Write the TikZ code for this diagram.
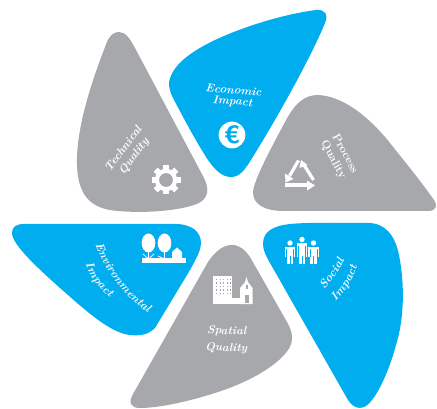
\documentclass[tikz,border=0pt]{standalone}
\usetikzlibrary{decorations.text}
\definecolor{bluec}{HTML}{00ADEF}
\definecolor{grayc}{HTML}{A7A8AC}
\newcommand{\lblfont}{\fontsize{11.5}{12}\selectfont\bfseries\itshape}
\tikzset{
  blueleaf/.style={fill=bluec,draw=none},
  grayleaf/.style={fill=grayc,draw=none},
  lbl/.style={text=white,font=\lblfont,align=center,inner sep=0pt},
  icon/.style={fill=white,draw=none},
  iconline/.style={draw=white,line width=1.2pt},
  cyclebar/.style={draw=white,line width=3.2pt},
}
\begin{document}
\begin{tikzpicture}[x=1pt,y=-1pt]
\useasboundingbox (0,0) rectangle (437,409);
% Technical
\path[grayleaf] (119,32) .. controls (126,32) and (130,39) .. (135,48)
 -- (204,178) .. controls (210,190) and (208,199) .. (197,204)
 .. controls (175,212) and (140,213) .. (118,211)
 .. controls (90,209) and (78,195) .. (77,165)
 .. controls (76,130) and (90,85) .. (107,42)
 .. controls (110,35) and (114,32) .. (119,32) -- cycle;
% Economic
\path[blueleaf] (169,83) .. controls (171,66) and (190,52) .. (215,40)
 .. controls (245,26) and (285,14) .. (316,10)
 .. controls (324,9) and (329,14) .. (325,23)
 .. controls (315,48) and (285,105) .. (254,155)
 .. controls (245,170) and (240,177) .. (231,177)
 .. controls (222,177) and (215,170) .. (208,160)
 .. controls (195,140) and (182,115) .. (173,98)
 .. controls (170,92) and (169,88) .. (169,83) -- cycle;
% Process
\path[grayleaf] (318,95) .. controls (340,96) and (365,112) .. (390,143)
 .. controls (405,162) and (420,180) .. (434,200)
 .. controls (438,206) and (436,211) .. (428,211)
 -- (285,211) .. controls (265,211) and (253,205) .. (253,192)
 .. controls (254,180) and (270,150) .. (285,122)
 .. controls (294,105) and (303,95) .. (318,95) -- cycle;
% Environmental
\path[blueleaf] (12,233) .. controls (12,227) and (16,224) .. (24,224)
 -- (175,224) .. controls (192,224) and (201,232) .. (201,243)
 .. controls (201,250) and (197,257) .. (190,270)
 -- (155,328) .. controls (148,335) and (140,336) .. (130,335)
 .. controls (110,333) and (85,310) .. (60,288)
 .. controls (40,270) and (12,245) .. (12,233) -- cycle;
% Social
\path[blueleaf] (263,244) .. controls (263,232) and (272,226) .. (290,224)
 .. controls (310,222) and (350,223) .. (368,223)
 .. controls (385,223) and (395,235) .. (399,255)
 .. controls (405,285) and (404,320) .. (396,345)
 .. controls (390,368) and (380,390) .. (372,400)
 .. controls (365,410) and (355,411) .. (348,400)
 -- (270,263) .. controls (266,256) and (263,250) .. (263,244) -- cycle;
% Spatial
\path[grayleaf] (232,245) .. controls (240,245) and (245,250) .. (250,257)
 -- (287,322) .. controls (293,332) and (294,342) .. (288,350)
 .. controls (278,365) and (250,382) .. (215,393)
 .. controls (190,401) and (160,408) .. (140,408)
 .. controls (131,408) and (128,403) .. (133,394)
 -- (208,262) .. controls (216,250) and (224,245) .. (232,245) -- cycle;
% Labels
\node[lbl,rotate=-5] (econ) at (233,96.5) {Economic\\[-1pt]Impact};
\node[lbl,rotate=53] (tech) at (129,153) {Technical\\[1pt]Quality};
\node[lbl,rotate=-62,font=\fontsize{11.5}{12}\selectfont\bfseries] (proc) at (339,157) {Process\\[1pt]Quality};
\node[lbl,rotate=-2] (spat) at (226.5,340) {Spatial\\[5pt]Quality};
\path[decorate,decoration={text along path,text align=center,raise=-3.5pt,
  text={|\lblfont\color{white}|Environmental}}]
  (95,230) .. controls (103,265) and (125,295) .. (161,318);
\path[decorate,decoration={text along path,text align=center,raise=-3.5pt,
  text={|\lblfont\color{white}|Impact}}]
  (87,256) .. controls (92,275) and (100,285) .. (117,299);
\path[decorate,decoration={text along path,text align=center,raise=-3.5pt,
  text={|\lblfont\color{white}|Social}}]
  (319,291) .. controls (326,282) and (337,270) .. (343,255);
\path[decorate,decoration={text along path,text align=center,raise=-3.5pt,
  text={|\lblfont\color{white}|Impact}}]
  (329,303) .. controls (340,292) and (351,280) .. (355,260);
% Euro icon
\fill[white] (232,135) circle (13.4);
\node[text=bluec,inner sep=0pt,font=\fontsize{25}{25}\selectfont\bfseries\sffamily] (euro) at (232,135) {€};
% Gear
\begin{scope}[shift={(166,180)}]
  \foreach \a in {0,45,...,315}
    \fill[white,rotate=\a] (-3,-14.5) rectangle (3,-9);
  \fill[white,even odd rule] (0,0) circle (11.2) (0,0) circle (7);
\end{scope}
% Recycling triangle
\draw[cyclebar] (285,185) -- (309,185);
\fill[white] (307,180.5) -- (315,185.5) -- (307,190.5) -- cycle;
\draw[cyclebar] (313.5,180) -- (304,165);
\fill[white] (299.5,168) -- (301,160) -- (307.5,165) -- cycle;
\draw[cyclebar] (298.5,160.5) -- (289.5,176);
\fill[white] (285,173.5) -- (293.5,179) -- (285.5,182.5) -- cycle;
% Trees and house
\fill[white] (148.5,243) ellipse (6.8 and 9.5);
\fill[white] (164.5,243) ellipse (6.8 and 9.5);
\draw[iconline] (148.5,248) -- (148.5,261);
\draw[iconline] (164.5,248) -- (164.5,261);
\fill[white] (142,258.5) rectangle (186,263);
\draw[white,line width=0.8pt] (143,254) -- (148.5,259) -- (154,254);
\draw[white,line width=0.8pt] (158,256) -- (164.5,259);
\fill[white] (172,259) -- (172,252) -- (177,247.5) -- (182,252) -- (182,259) -- cycle;
% Building and church
\fill[white] (213,276) rectangle (232,304);
\fill[white] (232,298) rectangle (243,304);
\fill[white] (240,304) -- (240,288) -- (245,282) -- (246.5,277) -- (248,282) -- (252.5,288) -- (252.5,304) -- cycle;
\foreach \yy in {279,282.5,...,296} \foreach \xx in {216,219.5,...,230}
  \fill[grayc] (\xx,\yy) rectangle +(1.2,1.2);
\fill[grayc] (244.5,295) rectangle (248.5,303);
\fill[grayc] (245.5,285) rectangle (247.5,289);
% People
\foreach \cx/\tp in {290/243,302/239.5,313.5/243}{
  \begin{scope}[shift={(\cx,0)}]
   \fill[white] (0,\tp) circle (2.7);
   \fill[white] (-5.3,\tp+4) rectangle (5.3,257);
   \fill[white] (-3.4,\tp+4) rectangle (3.4,264.5);
   \fill[bluec] (-0.35,256) rectangle (0.35,265);
   \fill[bluec] (-3.8,\tp+6.5) rectangle (-3.2,257.5);
   \fill[bluec] (3.2,\tp+6.5) rectangle (3.8,257.5);
  \end{scope}}
\end{tikzpicture}
\end{document}
